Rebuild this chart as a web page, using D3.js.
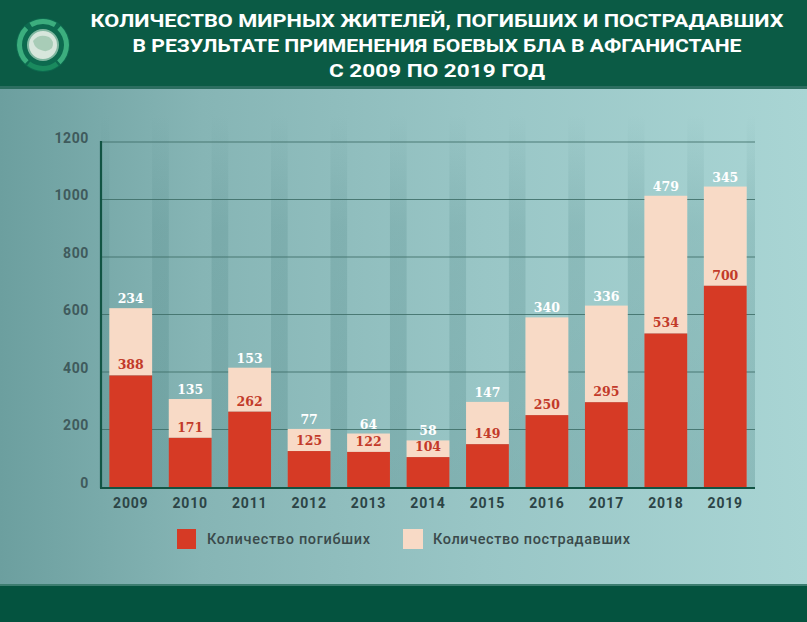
<!DOCTYPE html>
<html><head><meta charset="utf-8">
<script src="https://cdn.jsdelivr.net/npm/d3@7"></script>
<style>html,body{margin:0;padding:0;background:#0a5a44;}svg{display:block;}</style>
</head><body>
<script>
const years = ["2009","2010","2011","2012","2013","2014","2015","2016","2017","2018","2019"];
const killed = [388,171,262,125,122,104,149,250,295,534,700];
const injured = [234,135,153,77,64,58,147,340,336,479,345];
const yTicks = [0,200,400,600,800,1000,1200];
const titleLines = ["КОЛИЧЕСТВО МИРНЫХ ЖИТЕЛЕЙ, ПОГИБШИХ И ПОСТРАДАВШИХ","В РЕЗУЛЬТАТЕ ПРИМЕНЕНИЯ БОЕВЫХ БЛА В АФГАНИСТАНЕ","С 2009 ПО 2019 ГОД"];
const legendLabels = ["Количество погибших","Количество пострадавших"];

const W=807,H=622;
const svg=d3.select("body").append("svg").attr("width",W).attr("height",H);
const defs=svg.append("defs");
const bg=defs.append("linearGradient").attr("id","bg").attr("x1","0").attr("x2","1").attr("y1","0").attr("y2","0");
bg.append("stop").attr("offset","0").attr("stop-color","#6c9f9f");
bg.append("stop").attr("offset","0.25").attr("stop-color","#86b5b5");
bg.append("stop").attr("offset","0.6").attr("stop-color","#99c6c6");
bg.append("stop").attr("offset","1").attr("stop-color","#a9d5d4");
const stripe=defs.append("linearGradient").attr("id","stripe").attr("x1","0").attr("x2","0").attr("y1","0").attr("y2","1");
stripe.append("stop").attr("offset","0").attr("stop-color","#4d8585").attr("stop-opacity",0);
stripe.append("stop").attr("offset","0.3").attr("stop-color","#4d8585").attr("stop-opacity",0.22);
stripe.append("stop").attr("offset","1").attr("stop-color","#4d8585").attr("stop-opacity",0.3);

// background
svg.append("rect").attr("x",0).attr("y",88).attr("width",W).attr("height",497).attr("fill","url(#bg)");
// header
svg.append("rect").attr("x",0).attr("y",0).attr("width",W).attr("height",88).attr("fill","#0b5b45");
svg.append("rect").attr("x",0).attr("y",86).attr("width",W).attr("height",3).attr("fill","#2c6e60");
// footer
svg.append("rect").attr("x",0).attr("y",585).attr("width",W).attr("height",37).attr("fill","#04533f");
svg.append("rect").attr("x",0).attr("y",584).attr("width",W).attr("height",2).attr("fill","#3d7d70");

// logo
const lg=svg.append("g").attr("transform","translate(43,45)");
lg.append("circle").attr("r",27).attr("fill","#0d6a4f");
const arc=d3.arc().innerRadius(21).outerRadius(26);
[[-0.55,0.55],[0.75,2.4],[3.9,5.5]].forEach(a=>{
  lg.append("path").attr("d",arc({startAngle:a[0],endAngle:a[1]})).attr("fill","#3cae7e");
});
lg.append("path").attr("d",arc({startAngle:2.5,endAngle:3.8})).attr("fill","#1a8a5e");
lg.append("circle").attr("r",15).attr("fill","#d7e6dc");
lg.append("circle").attr("r",15).attr("fill","none").attr("stroke","#7fb7a0").attr("stroke-width",2);
lg.append("path").attr("d","M-10,-4 Q-4,-12 6,-8 Q12,-4 9,3 Q4,8 -2,5 Q-8,4 -10,-4Z").attr("fill","#9cc5ae").attr("opacity",0.8);

// title
const tg=svg.append("g").attr("font-family","Roboto, 'Open Sans', sans-serif").attr("font-weight","bold").attr("fill","#ffffff").attr("text-anchor","middle");
const tw=[693,609,216];
titleLines.forEach((t,i)=>{
  tg.append("text").attr("x",437).attr("y",27+i*25).attr("font-size",19).attr("textLength",tw[i]).attr("lengthAdjust","spacingAndGlyphs").text(t);
});

// scales
const x=d3.scaleBand().domain(years).range([101,755]).paddingInner(0.28).paddingOuter(0.14);
const y=d3.scaleLinear().domain([0,1200]).range([487,142]);

// stripes between bars
years.forEach((yr,i)=>{
  const gx = (i===0)? 101 : x(years[i-1])+x.bandwidth();
  const gw = x(yr)-gx;
  svg.append("rect").attr("x",gx).attr("y",115).attr("width",gw).attr("height",372).attr("fill","url(#stripe)");
});
svg.append("rect").attr("x",x("2019")+x.bandwidth()).attr("y",115).attr("width",755-(x("2019")+x.bandwidth())).attr("height",372).attr("fill","url(#stripe)");

// gridlines
svg.append("g").selectAll("line").data(yTicks.filter(d=>d>0)).join("line")
  .attr("x1",101).attr("x2",755).attr("y1",d=>y(d)).attr("y2",d=>y(d))
  .attr("stroke","#3e6e68").attr("stroke-width",1.2).attr("opacity",0.85);

// y axis labels
const yAxis=d3.axisLeft(y).tickValues(yTicks).tickFormat(d3.format("d")).tickSize(0).tickPadding(0);
const ya=svg.append("g").attr("transform","translate(89,-4)").call(yAxis);
ya.select(".domain").remove();
ya.selectAll("text").attr("font-family","Roboto, sans-serif").attr("font-weight","bold").attr("font-size",14).attr("letter-spacing",0.6).attr("fill","#3f5a5c");

// bars
const bars=svg.append("g");
years.forEach((yr,i)=>{
  const k=killed[i], inj=injured[i];
  bars.append("rect").attr("x",x(yr)).attr("width",x.bandwidth()).attr("y",y(k+inj)).attr("height",y(k)-y(k+inj)).attr("fill","#f8dac6");
  bars.append("rect").attr("x",x(yr)).attr("width",x.bandwidth()).attr("y",y(k)).attr("height",y(0)-y(k)).attr("fill","#d63a25");
});

// axes lines
svg.append("line").attr("x1",101).attr("x2",101).attr("y1",141).attr("y2",488).attr("stroke","#115443").attr("stroke-width",2.2);
svg.append("line").attr("x1",100).attr("x2",755).attr("y1",488).attr("y2",488).attr("stroke","#115443").attr("stroke-width",2.2);

// value labels
const lf="'DejaVu Serif', serif";
years.forEach((yr,i)=>{
  const k=killed[i], inj=injured[i], cx=x(yr)+x.bandwidth()/2;
  svg.append("text").attr("x",cx).attr("y",y(k)-6).attr("text-anchor","middle").attr("font-family",lf).attr("font-weight","bold").attr("font-size",12.5)
    .attr("fill","#c23a2a").text(k);
  svg.append("text").attr("x",cx).attr("y",y(k+inj)-5).attr("text-anchor","middle").attr("font-family",lf).attr("font-weight","bold").attr("font-size",12.5)
    .attr("fill","#ffffff").text(inj);
});

// x labels
const xa=svg.append("g").attr("transform","translate(0,489)").call(d3.axisBottom(x).tickSize(0).tickPadding(9));
xa.select(".domain").remove();
xa.selectAll("text").attr("font-family","Roboto, sans-serif").attr("font-weight","bold").attr("font-size",14).attr("letter-spacing",0.8).attr("fill","#2c4446");

// legend
const lgd=svg.append("g").attr("font-family","Roboto, sans-serif").attr("font-size",14.5).attr("font-weight","500").attr("fill","#3a4a4b");
lgd.append("rect").attr("x",177).attr("y",529).attr("width",19).attr("height",20).attr("fill","#d63a25");
lgd.append("text").attr("x",207).attr("y",544).attr("textLength",163).attr("lengthAdjust","spacing").text(legendLabels[0]);
lgd.append("rect").attr("x",403).attr("y",529).attr("width",20).attr("height",20).attr("fill","#f8dac6");
lgd.append("text").attr("x",433).attr("y",544).attr("textLength",197).attr("lengthAdjust","spacing").text(legendLabels[1]);
</script>
</body></html>
